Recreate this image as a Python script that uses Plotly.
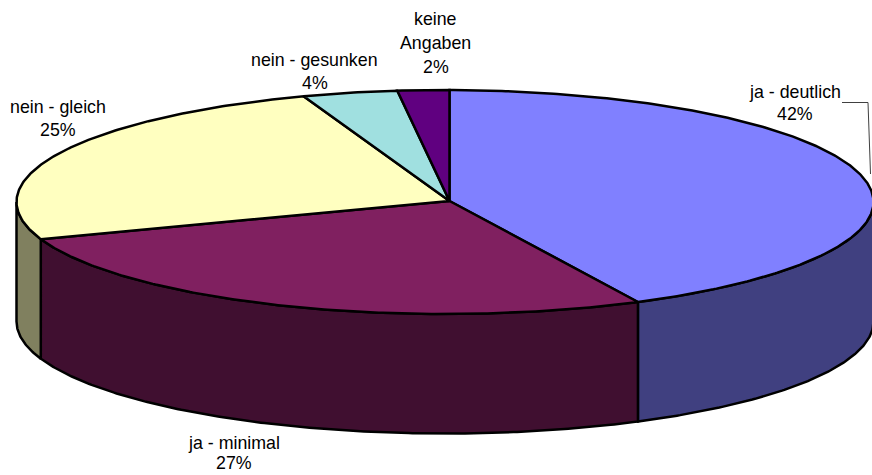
import numpy as np
import plotly.graph_objects as go

# Data (shares; printed labels are the rounded ones)
categories = ["ja - deutlich", "ja - minimal", "nein - gleich", "nein - gesunken", "keine Angaben"]
values = [42.4, 27.05, 25.03, 3.58, 1.94]
label_lines = [["ja - deutlich", "42%"], ["ja - minimal", "27%"], ["nein - gleich", "25%"],
               ["nein - gesunken", "4%"], ["keine", "Angaben", "2%"]]

# Styles
top_colors = ["#8080FF", "#802060", "#FFFFC0", "#A0E0E0", "#600080"]
wall_colors = ["#404080", "#400F30", "#80805F", "#505F5F", "#300040"]

# Layout of the tilted disc, in pixels of the plot area
W, H = 872, 475
CX, CY, RX, RY, DEPTH = 445.0, 202.0, 428.5, 112.0, 119.5
APEX = (449.5, 201.0)
START_ANGLE = 0.6
label_pos = [[(794.5, 92), (794.5, 114)], [(233.5, 443), (233.5, 463)], [(57.5, 107), (57.5, 130)],
             [(314.5, 60), (314.5, 83)], [(435.5, 19), (435.5, 43), (435.5, 67)]]


def rim(a0, a1, dy=0.0):
    a = np.radians(np.linspace(a0, a1, max(int(abs(a1 - a0)) * 2, 2) + 1))
    return CX + RX * np.sin(a), CY - RY * np.cos(a) + dy


fig = go.Figure()
edges = START_ANGLE + np.concatenate([[0], np.cumsum(values)]) * 3.6

# Side walls: only the part of each slice on the front half (90..270 degrees)
for i in range(len(values)):
    a0, a1 = max(edges[i], 90), min(edges[i + 1], 270)
    if a1 <= a0:
        continue
    xt, yt = rim(a0, a1)
    xb, yb = rim(a1, a0, DEPTH)
    fig.add_trace(go.Scatter(
        x=np.r_[xt, xb, xt[0]], y=np.r_[yt, yb, yt[0]], mode="lines", fill="toself",
        fillcolor=wall_colors[i], line=dict(color="black", width=2.5),
        name=categories[i], hoverinfo="skip", showlegend=False))

# Top face
for i in range(len(values)):
    x, y = rim(edges[i], edges[i + 1])
    fig.add_trace(go.Scatter(
        x=np.r_[APEX[0], x, APEX[0]], y=np.r_[APEX[1], y, APEX[1]], mode="lines", fill="toself",
        fillcolor=top_colors[i], line=dict(color="black", width=2.5),
        name=categories[i], hoverinfo="name", showlegend=False))

annotations = []
for lines, pos in zip(label_lines, label_pos):
    for text, (px, py) in zip(lines, pos):
        annotations.append(dict(x=px, y=py, text=text, showarrow=False, xanchor="center", yanchor="middle",
                                font=dict(family="Liberation Sans, Arial", size=17.8, color="black")))

fig.update_layout(
    width=W, height=H, margin=dict(l=0, r=0, t=0, b=0), autosize=False,
    paper_bgcolor="white", plot_bgcolor="white", showlegend=False, annotations=annotations,
    xaxis=dict(range=[0, W], visible=False, fixedrange=True),
    yaxis=dict(range=[H, 0], visible=False, fixedrange=True),
    shapes=[dict(type="path", path="M 842 102.5 L 868 102.5 L 870.5 174",
                 line=dict(color="#404040", width=1))],
)
fig.write_html("out.html", config=dict(displayModeBar=False),
               post_script="document.body.style.margin='0';document.body.style.overflow='hidden';")
